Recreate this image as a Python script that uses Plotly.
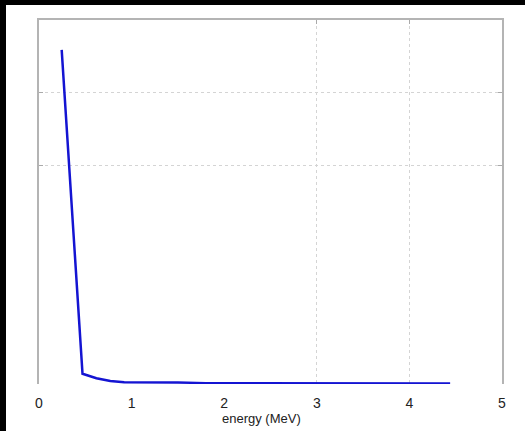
import plotly.graph_objects as go

energy = [0.245, 0.47, 0.62, 0.77, 0.92, 1.2, 1.5, 1.8, 2.2, 2.6, 3.0, 3.4, 3.8, 4.2, 4.44]
counts = [4.59, 0.14, 0.08, 0.04, 0.025, 0.025, 0.022, 0.012, 0.012, 0.01, 0.012, 0.006, 0.006, 0.006, 0.006]
x_ticks = [0, 1, 2, 3, 4, 5]
grid_vals = [3, 4]
x_title = "energy (MeV)"

fig = go.Figure()
fig.add_trace(go.Scatter(x=energy, y=counts, mode="lines",
                         line=dict(color="#1414d2", width=2.5), showlegend=False))
fig.add_trace(go.Scatter(x=[None], y=[None], xaxis="x2", showlegend=False))

font = dict(family="Liberation Sans, Arial, sans-serif", size=13, color="#222")
fig.update_layout(
    width=525, height=431,
    margin=dict(l=39, r=23, t=20, b=47),
    paper_bgcolor="white", plot_bgcolor="white",
    font=font,
    xaxis=dict(range=[0, 5], tickvals=x_ticks, ticks="outside", ticklen=6,
               tickcolor="rgba(0,0,0,0)", tickfont=dict(size=14), showgrid=False,
               showline=False, zeroline=False, automargin=False),
    xaxis2=dict(range=[0, 5], overlaying="x", side="top", tickvals=grid_vals, ticks="inside",
                ticklen=4, tickcolor="#aaa", showticklabels=False, showline=True,
                linecolor="#b4b4b4", linewidth=1.5, showgrid=True, gridcolor="#d4d4d4",
                griddash="dot", gridwidth=1, zeroline=False, automargin=False),
    yaxis=dict(range=[0, 5], tickvals=grid_vals, ticks="inside", ticklen=4, tickcolor="#aaa",
               showticklabels=False, showline=True, mirror="ticks", linecolor="#b4b4b4",
               linewidth=1.5, showgrid=True, gridcolor="#d4d4d4", griddash="dot",
               zeroline=False, automargin=False),
    annotations=[dict(text=x_title, xref="paper", yref="paper", x=(261.5 - 39) / 463,
                      y=(384 - 418) / 364, xanchor="center", yanchor="middle",
                      showarrow=False, font=dict(size=13))],
    shapes=[
        dict(type="rect", xref="paper", yref="paper", x0=-0.2, x1=(6 - 39) / 463,
             y0=-0.2, y1=1.2, fillcolor="black", line=dict(width=0), layer="above"),
        dict(type="rect", xref="paper", yref="paper", x0=-0.2, x1=1.2,
             y0=(384 - 5) / 364, y1=1.2, fillcolor="black", line=dict(width=0), layer="above"),
    ],
)
fig.write_html("out.html")
